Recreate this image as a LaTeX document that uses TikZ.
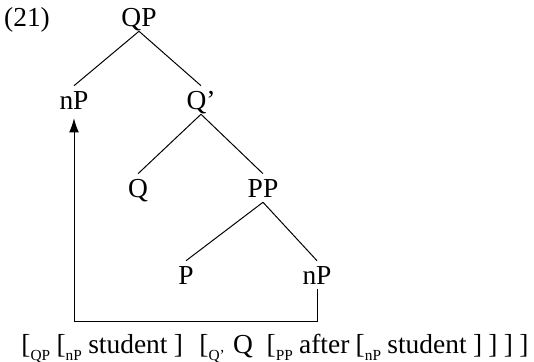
\documentclass[tikz,border=0pt]{standalone}
\usepackage{fontspec}
\setmainfont{Liberation Serif}
\usepackage{tikz}
\usetikzlibrary{arrows.meta,positioning,calc}

\newcommand{\lsub}[1]{\raisebox{-0.55ex}{\fontsize{7pt}{8pt}\selectfont #1}}

\tikzset{
  lbl/.style={font=\fontsize{12.5pt}{15pt}\selectfont, inner sep=2pt,
    text height=8.6pt, text depth=0pt},
  branch/.style={line width=0.45pt}
}

\begin{document}
\begin{tikzpicture}[x=0.016cm,y=-0.016cm]
                    \useasboundingbox (0,0) rectangle (534,362);
                    % example number
                    \node[lbl] (ex) at (27,17) {(21)};
                    % tree labels
                    \node[lbl] (qp) at (139,17) {QP};
                    \node[lbl] (np1) at (74,100) {nP};
                    \node[lbl] (qbar) at (201,100) {Q'};
                    \node[lbl] (q) at (138,188) {Q};
                    \node[lbl] (pp) at (263,188) {PP};
                    \node[lbl] (p) at (186,275) {P};
                    \node[lbl] (np2) at (317,275) {nP};
                    % branches
                    \draw[branch] (qp.south) -- (np1.north);
                    \draw[branch] (qp.south) -- (qbar.north);
                    \draw[branch] (qbar.south) -- (q.north);
                    \draw[branch] (qbar.south) -- (pp.north);
                    \draw[branch] (pp.south) -- (p.north);
                    \draw[branch] (pp.south) -- (np2.north);
                    % movement arrow
                    \coordinate (base) at (0,321);
                    \draw[branch,-{Latex[length=6.5pt,width=4.5pt]},shorten >=1.8pt] (np2.south) -- (np2.south |- base) -| (np1.south);
                    % bracketed string
                    \node[lbl,inner sep=0pt] (gloss) at (275,344)
                        {\spaceskip=0.23em plus 0.1em [\lsub{QP} [\lsub{nP} student ]\hspace{0.6em}[\lsub{Q'}\hspace{0.3em}Q\hspace{0.5em}[\lsub{PP} after [\lsub{nP} student ] ] ] ]};
                \end{tikzpicture}
\end{document}
